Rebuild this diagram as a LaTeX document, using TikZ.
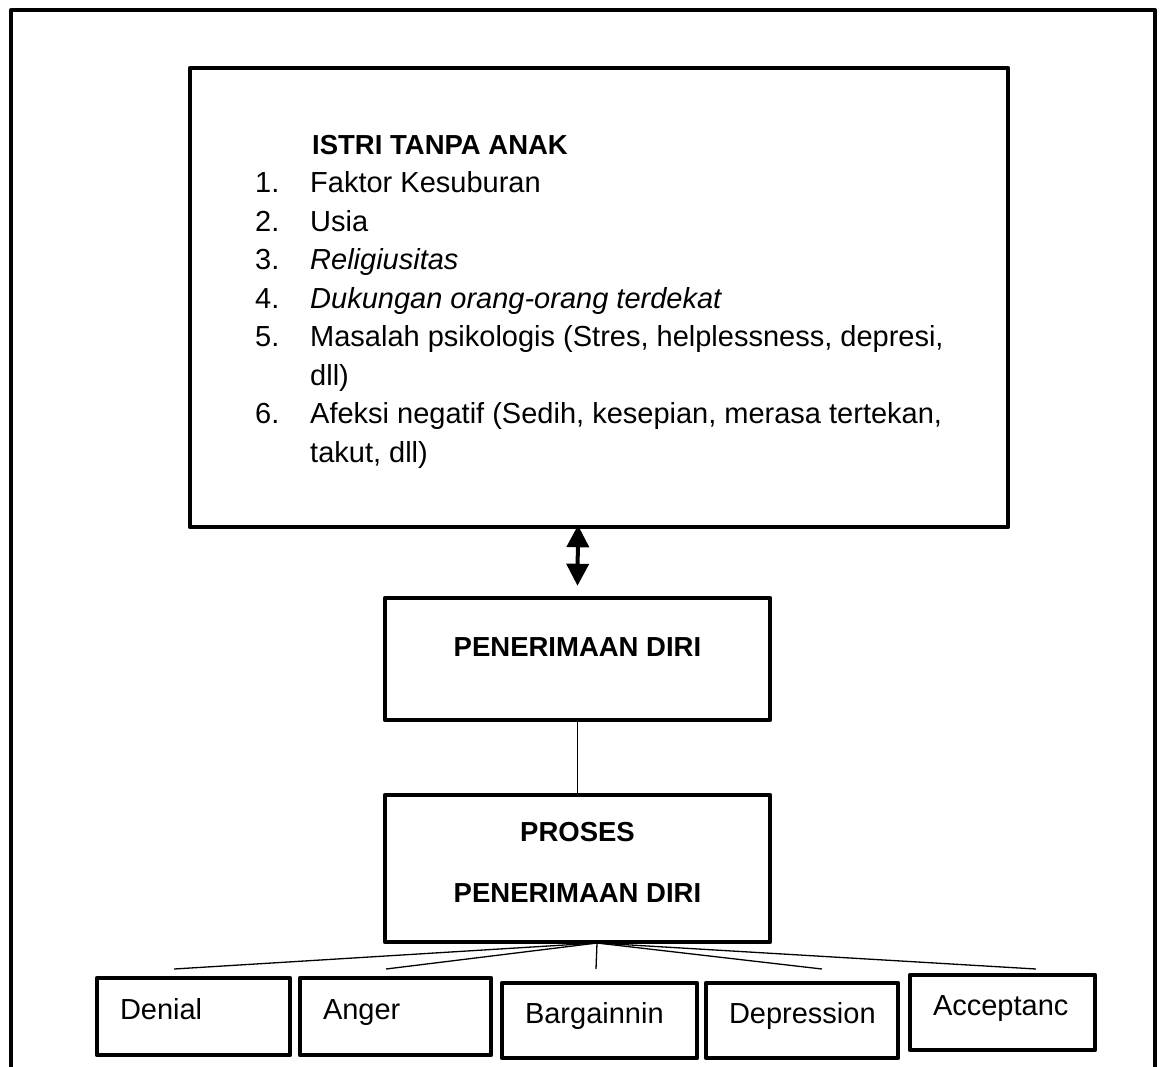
\documentclass[tikz,border=0pt]{standalone}
\usepackage{fontspec}
\setmainfont{Liberation Sans}
\usetikzlibrary{arrows.meta, positioning}
\newcommand\itemno[1]{\makebox[55pt][l]{#1}}

\begin{document}
\begin{tikzpicture}[
    x=1pt, y=-1pt,
    box/.style={draw, line width=4.5pt, line join=round, inner sep=0pt},
    stage/.style={box, minimum height=77pt, text width=#1, inner xsep=23pt, align=left,
        text height=20pt, text depth=14pt, font=\fontsize{29}{34}\selectfont},
    title/.style={font=\fontsize{27.5}{61}\selectfont\bfseries, align=center},
    link/.style={line width=1.3pt},
    >={Triangle[width=22pt,length=22pt]}
]
\useasboundingbox (0,0) rectangle (1167,1066);
% outer frame
\draw[line width=4pt, line join=round] (11,1080) -- (11,10) -- (1155,10) -- (1155,1080);

\node[box, minimum width=818pt, minimum height=459pt] (wife) at (599,297.5) {};
\node[anchor=north west, inner sep=0pt, align=left, font=\fontsize{29}{38.5}\selectfont] (factors) at (255,135) {%
  \hspace*{57pt}{\fontsize{27.5}{38.5}\selectfont\bfseries ISTRI TANPA ANAK}\\
  \itemno{1.}Faktor Kesuburan\\
  \itemno{2.}Usia\\
  \itemno{3.}\textit{Religiusitas}\\
  \itemno{4.}\textit{Dukungan orang-orang terdekat}\\
  \itemno{5.}Masalah psikologis (Stres, helplessness, depresi,\\
  \itemno{}dll)\\
  \itemno{6.}Afeksi negatif (Sedih, kesepian, merasa tertekan,\\
  \itemno{}takut, dll)};

\node[box, title, minimum width=385pt, minimum height=122pt, text height=20pt, text depth=25pt] (self) at (577.5,659) {PENERIMAAN DIRI};
\node[box, title, minimum width=385pt, minimum height=147pt, text height=81pt, text depth=14pt] (process) at (577.5,868.5) {PROSES\\PENERIMAAN DIRI};

% stages
\node[stage=147pt] (denial) at (193.5,1016.5) {Denial};
\node[stage=145pt] (anger) at (395.5,1016.5) {Anger};
\node[stage=149pt, minimum height=75pt] (bargain) at (599.5,1020.5) {Bargainnin};
\node[stage=146pt, minimum height=75pt] (depress) at (802,1020.5) {Depression};
\node[stage=139pt, minimum height=75pt] (accept) at (1002.5,1012.5) {Acceptanc};

\draw[<->, line width=4pt] ([xshift=-21pt,yshift=4pt]wife.south) -- ([yshift=10pt]self.north);
\draw[link] (self) -- (process);

\coordinate (fan) at (597,943);
\coordinate (denialtop) at (174,969);
\coordinate (angertop) at (386,969);
\coordinate (bargaintop) at (596,969);
\coordinate (depresstop) at (822,969);
\coordinate (accepttop) at (1036,969);
\draw[link] (fan) -- (denialtop);
\draw[link] (fan) -- (angertop);
\draw[link] (fan) -- (bargaintop);
\draw[link] (fan) -- (depresstop);
\draw[link] (fan) -- (accepttop);
\end{tikzpicture}
\end{document}
